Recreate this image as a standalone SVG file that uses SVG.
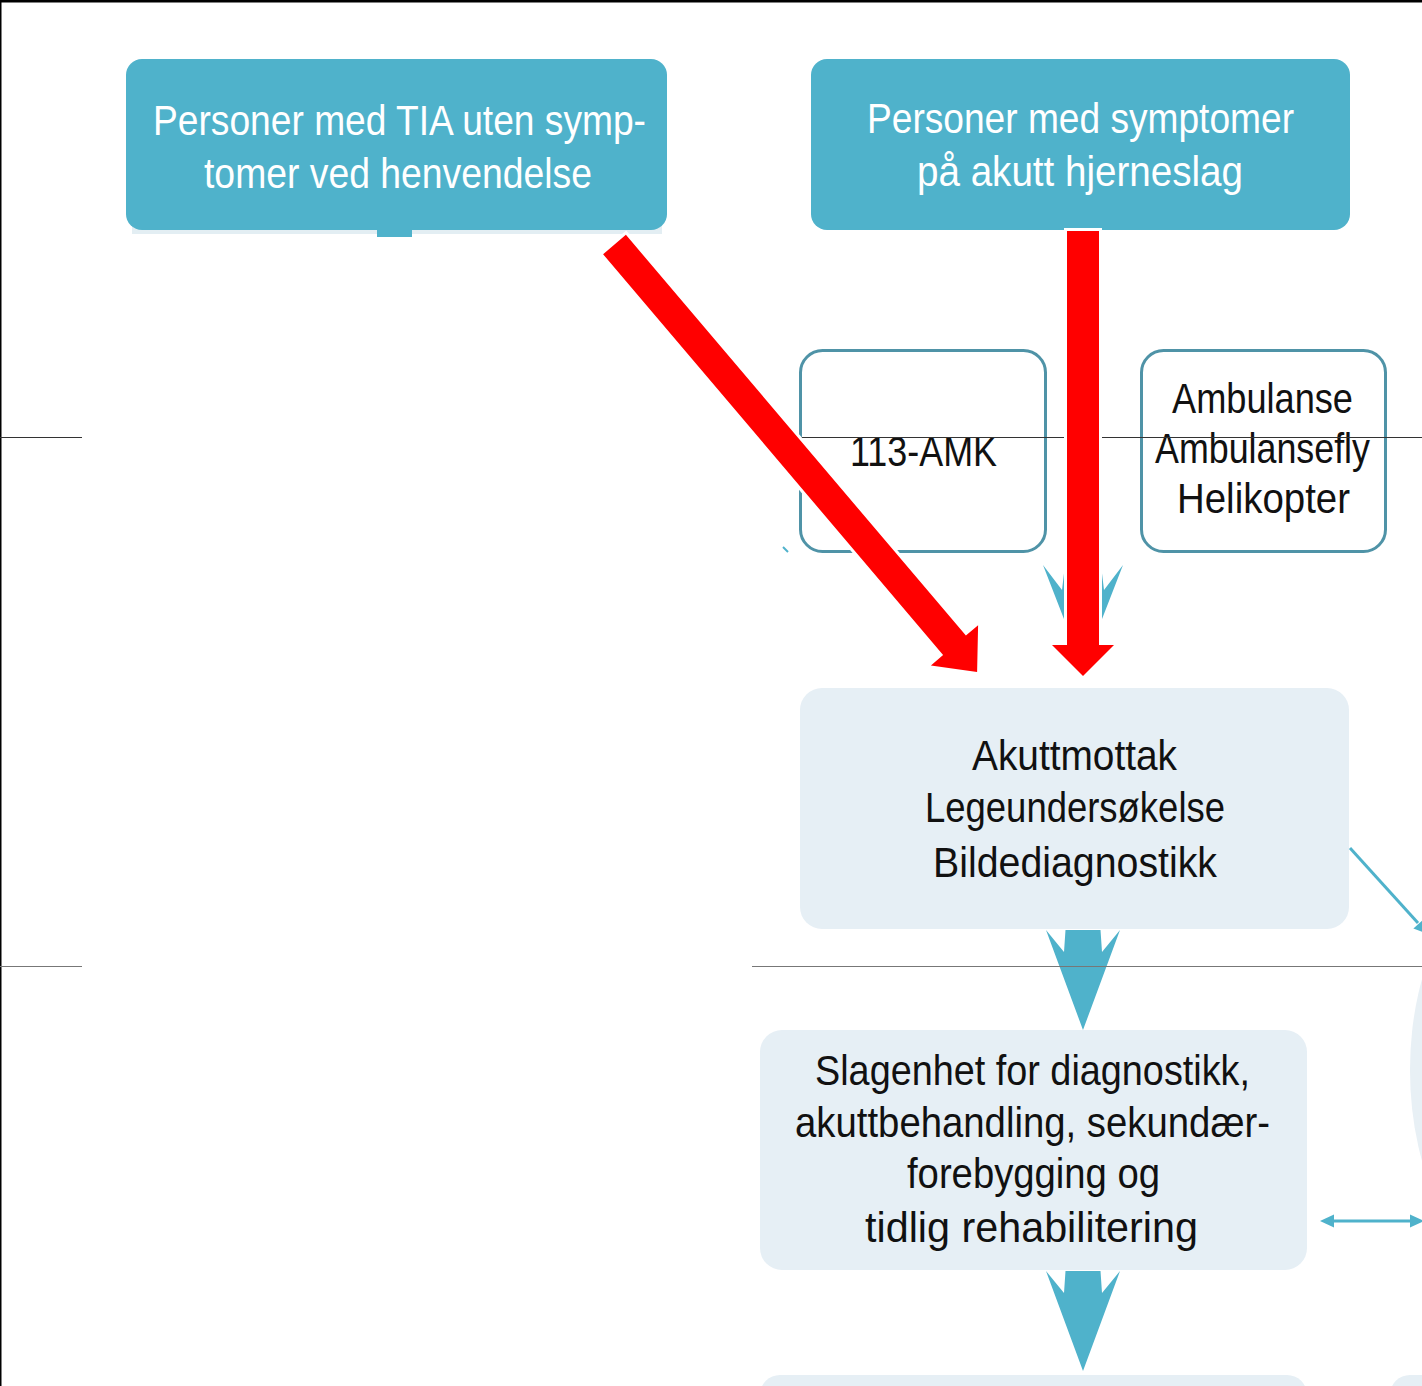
<svg xmlns="http://www.w3.org/2000/svg" width="1422" height="1386" viewBox="0 0 1422 1386">
<style>
.teal{fill:#4FB2CB}
.light{fill:#E6EFF5}
.out{fill:#FFFFFF;stroke:#4F93A7;stroke-width:3}
.t{font-family:"Liberation Sans Narrow","Liberation Sans",Arial,sans-serif;font-size:43px}
.w{fill:#FFFFFF}
.k{fill:#111111}
.red{fill:#FF0000;stroke:#FFFFFF;stroke-width:6;paint-order:stroke;stroke-linejoin:miter}
.tl{stroke:#4FB2CB;stroke-width:3;fill:none}
</style>
<defs>
<path id="tarrow" d="M-37,0 L-19,22 L-17.5,0 L17.5,0 L19,22 L37,0 L0,100 Z" fill="#4FB2CB"/>
</defs>
<rect x="0" y="0" width="1422" height="1386" fill="#FFFFFF"/>
<g id="bg-shapes">
<ellipse cx="1520" cy="1070" rx="110" ry="200" fill="#E8F0F5"/>
<rect x="760" y="1375" width="547" height="60" rx="20" class="light"/>
<rect x="1390" y="1375" width="120" height="60" rx="20" class="light"/>
</g>
<g id="node-tia">
<rect x="132" y="226" width="530" height="8" fill="#E3EEF3"/>
<rect x="126" y="59" width="541" height="171" rx="16" class="teal"/>
<rect x="377" y="228" width="35" height="9" class="teal"/>
<text class="t w" x="153" y="135" textLength="493" lengthAdjust="spacingAndGlyphs">Personer med TIA uten symp-</text>
<text class="t w" x="204" y="188" textLength="388" lengthAdjust="spacingAndGlyphs">tomer ved henvendelse</text>
</g>
<g id="node-symptomer">
<rect x="811" y="59" width="539" height="171" rx="16" class="teal"/>
<text class="t w" x="867" y="133" textLength="427" lengthAdjust="spacingAndGlyphs">Personer med symptomer</text>
<text class="t w" x="917" y="186" textLength="326" lengthAdjust="spacingAndGlyphs">på akutt hjerneslag</text>
</g>
<g id="node-amk">
<rect x="800.5" y="350.5" width="245" height="201" rx="22" class="out"/>
<text class="t k" x="850" y="466" textLength="147" lengthAdjust="spacingAndGlyphs">113-AMK</text>
</g>
<g id="node-ambulanse">
<rect x="1141.5" y="350.5" width="244" height="201" rx="22" class="out"/>
<text class="t k" x="1172" y="413" font-size="40" textLength="181" lengthAdjust="spacingAndGlyphs">Ambulanse</text>
<text class="t k" x="1155" y="463" font-size="40" textLength="215" lengthAdjust="spacingAndGlyphs">Ambulansefly</text>
<text class="t k" x="1177" y="513" font-size="40" textLength="173" lengthAdjust="spacingAndGlyphs">Helikopter</text>
</g>
<g id="node-akuttmottak">
<rect x="800" y="688" width="549" height="241" rx="22" class="light"/>
<text class="t k" x="972" y="770" font-size="42" textLength="205" lengthAdjust="spacingAndGlyphs">Akuttmottak</text>
<text class="t k" x="925" y="822" font-size="42" textLength="300" lengthAdjust="spacingAndGlyphs">Legeundersøkelse</text>
<text class="t k" x="933" y="877" font-size="42" textLength="284" lengthAdjust="spacingAndGlyphs">Bildediagnostikk</text>
</g>
<g id="node-slagenhet">
<rect x="760" y="1030" width="547" height="240" rx="22" class="light"/>
<text class="t k" x="815" y="1085" font-size="42" textLength="435" lengthAdjust="spacingAndGlyphs">Slagenhet for diagnostikk,</text>
<text class="t k" x="795" y="1137" font-size="42" textLength="475" lengthAdjust="spacingAndGlyphs">akuttbehandling, sekundær-</text>
<text class="t k" x="907" y="1188" font-size="42" textLength="253" lengthAdjust="spacingAndGlyphs">forebygging og</text>
<text class="t k" x="865" y="1242" font-size="42" textLength="333" lengthAdjust="spacingAndGlyphs">tidlig rehabilitering</text>
</g>
<g id="connectors">
<g id="teal-connectors">
<path d="M1043,565 L1062,590 L1065,565 L1101,565 L1104,590 L1123,565 L1083,668 Z" fill="#4FB2CB"/>
<line x1="783" y1="547" x2="788" y2="552" stroke="#4FB2CB" stroke-width="2"/>
<use href="#tarrow" x="1083" y="930"/>
<use href="#tarrow" x="1083" y="1271"/>
<line x1="1350" y1="848" x2="1418" y2="923" class="tl"/>
<polygon points="1428,934 1423.8,919 1413.4,928.4" fill="#4FB2CB"/>
<line x1="1330" y1="1221" x2="1414" y2="1221" class="tl"/>
<polygon points="1320,1221 1334,1214.5 1334,1227.5" fill="#4FB2CB"/>
<polygon points="1424,1221 1410,1214.5 1410,1227.5" fill="#4FB2CB"/>
</g>
<g id="frame">
<rect x="0" y="0" width="1422" height="2.5" fill="#000000"/>
<rect x="0" y="0" width="1.5" height="1386" fill="#000000"/>
<line x1="0" y1="437.5" x2="82" y2="437.5" stroke="#333333" stroke-width="1.2"/>
<line x1="797" y1="437.5" x2="1422" y2="437.5" stroke="#333333" stroke-width="1.2"/>
<line x1="0" y1="966.5" x2="82" y2="966.5" stroke="#777777" stroke-width="1.2"/>
<line x1="752" y1="966.5" x2="1422" y2="966.5" stroke="#777777" stroke-width="1.2"/>
</g>
<g id="red-connectors">
<polygon class="red" points="625.9,234.8 965.9,635.6 978.1,625.2 977.1,672.0 930.9,665.4 943.1,655.0 603.1,254.2"/>
<polygon class="red" points="1067,231 1099,231 1099,645 1114,645 1083,676 1052,645 1067,645"/>
</g>
</g>
</svg>
